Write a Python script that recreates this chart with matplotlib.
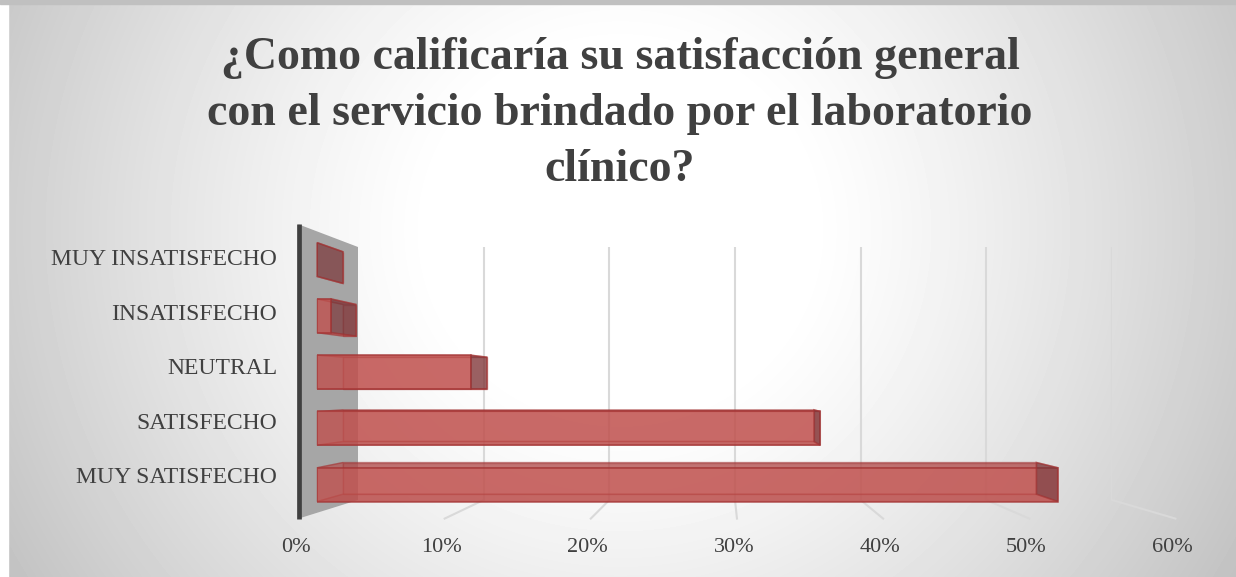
import numpy as np
import matplotlib
matplotlib.use('Agg')
import matplotlib.pyplot as plt
from matplotlib.patches import Polygon, Rectangle
from matplotlib.transforms import IdentityTransform, blended_transform_factory, offset_copy

# ---------------- data ----------------
categorias = ['MUY SATISFECHO', 'SATISFECHO', 'NEUTRAL', 'INSATISFECHO', 'MUY INSATISFECHO']
porcentajes = [53, 36, 11, 1, 0]
ticks = [0, 10, 20, 30, 40, 50, 60]
tick_labels = ['0%', '10%', '20%', '30%', '40%', '50%', '60%']
titulo = ['¿Como calificaría su satisfacción general',
          'con el servicio brindado por el laboratorio',
          'clínico?']

plt.rcParams['font.family'] = ['Liberation Serif', 'DejaVu Serif']
TXT = '#404040'

W, H = 1236, 577
fig = plt.figure(figsize=(W / 100, H / 100), dpi=100)

# ---------------- background ----------------
bg = fig.add_axes([0, 0, 1, 1], zorder=-10)
yy, xx = np.mgrid[0:H, 0:W]
d = np.hypot((xx - 620) / 620, (yy - 230) / 600)
g = np.clip(255 - 75 * np.clip(d - 0.3, 0, None) ** 1.2, 0, 255) / 255
bg.imshow(g, cmap='gray', vmin=0, vmax=1, extent=(0, W, H, 0), aspect='auto')
bg.add_patch(Rectangle((0, 0), 8, H, color='white'))
bg.add_patch(Rectangle((0, 0), W, 3.5, color='#c0c0c0'))
bg.set_xlim(0, W); bg.set_ylim(H, 0)
bg.axis('off')

# ---------------- fake 3d planes ----------------
VX, VY = 723, 386                 # vanishing point
BX0, BX1, BY0, BY1 = 358, 1112, 247, 500   # back plane box


def plane(s, z):
    x0 = VX + s * (BX0 - VX); x1 = VX + s * (BX1 - VX)
    y0 = VY + s * (BY0 - VY); y1 = VY + s * (BY1 - VY)
    a = fig.add_axes([x0 / W, 1 - y1 / H, (x1 - x0) / W, (y1 - y0) / H], zorder=z)
    a.set_xlim(ticks[0], ticks[-1]); a.set_ylim(-0.5, len(categorias) - 0.5)
    a.set_facecolor('none'); a.axis('off')
    return a


def overlay(z):
    a = fig.add_axes([0, 0, 1, 1], zorder=z)
    a.set_facecolor('none'); a.axis('off')
    a.set_xlim(0, W); a.set_ylim(0, H)
    return a


back = plane(1.0, 1)
floor = overlay(2)
bb = plane(1.041, 3)
mid = overlay(4)
bf = plane(1.112, 5)
top = overlay(6)
front = plane(1.163, 7)

ymin, ymax = -0.5, len(categorias) - 0.5


def poly(ax, pts, **kw):
    ax.add_patch(Polygon(pts, closed=True, transform=IdentityTransform(), **kw))


# grid on back plane + floor lines
back.vlines(ticks[1:], ymin, ymax, color='#d9d9d9', lw=1.5)
for t in ticks[1:]:
    p0 = back.transData.transform((t, ymin))
    p1 = front.transData.transform((t, ymin))
    floor.plot([p0[0], p1[0]], [p0[1], p1[1]], color='#d9d9d9', lw=1.5,
               transform=IdentityTransform())

# side wall at 0%
wall = [front.transData.transform((0, ymax)), back.transData.transform((0, ymax)),
        back.transData.transform((0, ymin)), front.transData.transform((0, ymin))]
poly(floor, wall, facecolor='#a6a6a6', edgecolor='none')

# bars
y = np.arange(len(categorias))
h = 0.6
RED = '#c0504d'
EDGE = '#a33434'
bb.barh(y, porcentajes, height=h, color=RED, alpha=0.5, edgecolor=EDGE, lw=1.0)
bf.barh(y, porcentajes, height=h, color=RED, alpha=0.7, edgecolor=EDGE, lw=1.2)

for yi, v in zip(y, porcentajes):
    t, b = yi + h / 2, yi - h / 2
    F = lambda x, yy: bf.transData.transform((x, yy))
    B = lambda x, yy: bb.transData.transform((x, yy))
    poly(mid, [F(0, t), F(v, t), B(v, t), B(0, t)], facecolor='#a84444', alpha=0.5,
         edgecolor=EDGE, lw=1.0)
    poly(mid, [F(0, b), F(v, b), B(v, b), B(0, b)], facecolor='#a84444', alpha=0.5,
         edgecolor=EDGE, lw=1.0)
    poly(mid, [F(0, b), F(0, t), B(0, t), B(0, b)], facecolor=RED, alpha=0.3,
         edgecolor=EDGE, lw=1.0)
    poly(top, [F(v, b), F(v, t), B(v, t), B(v, b)], facecolor='#6e3236', alpha=0.6,
         edgecolor=EDGE, lw=1.2)

# category axis line
p0 = front.transData.transform((0, ymin)); p1 = front.transData.transform((0, ymax))
top.plot([p0[0], p1[0]], [p0[1], p1[1]], color='#404040', lw=3.4,
         transform=IdentityTransform(), solid_capstyle='butt')

# value labels
tr = offset_copy(blended_transform_factory(front.transData, bg.transData),
                 fig=fig, x=-3, units='dots')
for t, lab in zip(ticks, tick_labels):
    front.text(t, 548, lab, transform=tr, ha='center', va='center', fontsize=16, color=TXT)

# category labels
lab_ax = plane(1.077, 8)
tr2 = offset_copy(blended_transform_factory(bg.transData, lab_ax.transData),
                  fig=fig, y=4, units='dots')
for yi, c in zip(y, categorias):
    lab_ax.text(277, yi, c, transform=tr2, ha='right', va='center', fontsize=17, color=TXT)

# title
for yb, line in zip([69, 125, 181], titulo):
    bg.text(620, yb, line, ha='center', va='baseline', fontsize=33, weight='bold', color=TXT)

fig.savefig('out.png', dpi=100)
